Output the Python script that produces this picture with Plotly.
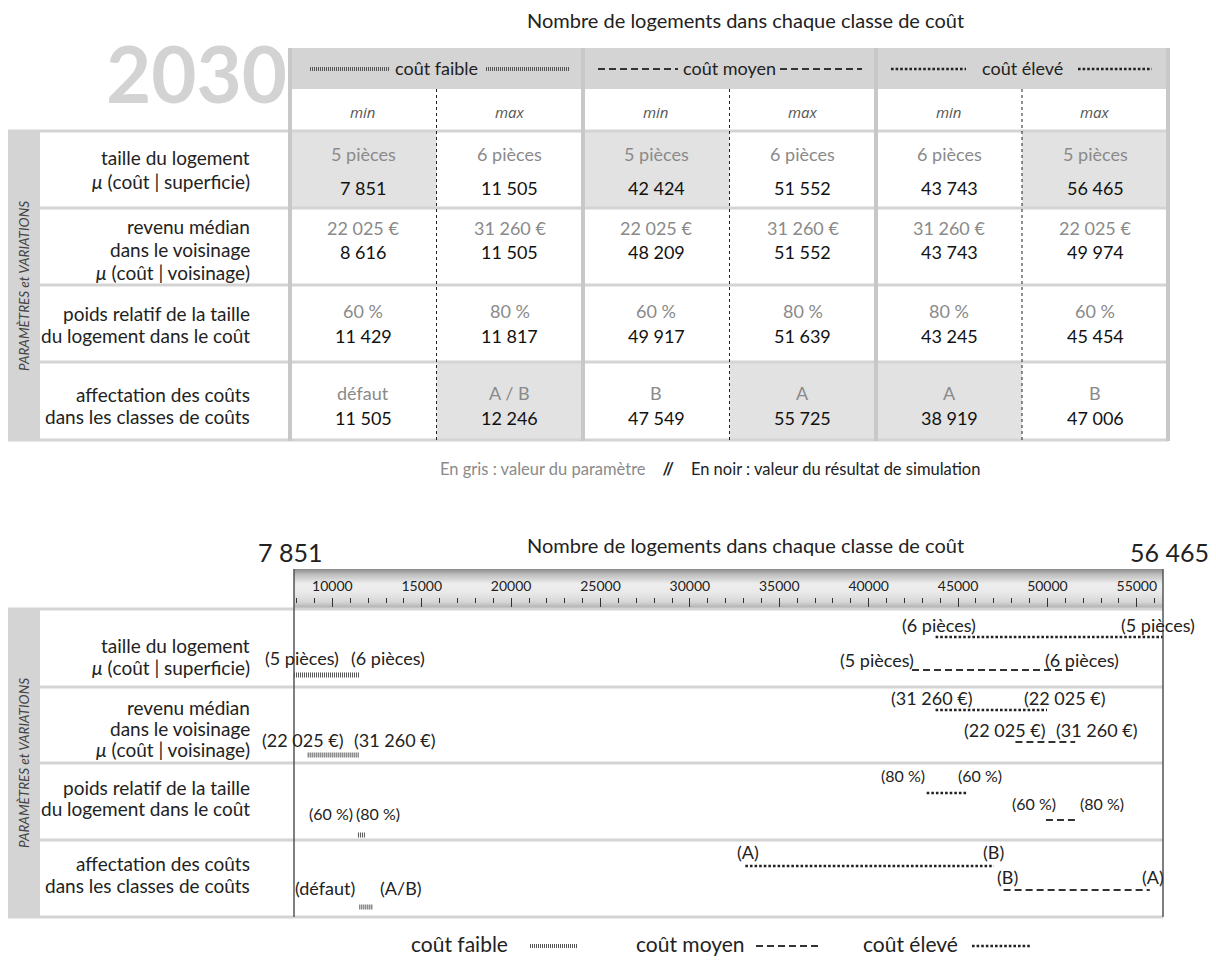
import plotly.graph_objects as go

W, H = 1216, 960
FONT = "Lato"

# ---------------- data ----------------
year = "2030"
chart_title = "Nombre de logements dans chaque classe de coût"
classes = ["coût faible", "coût moyen", "coût élevé"]
bounds = ["min", "max"]
row_labels = [
    ["taille du logement", "<i>μ</i> (coût | superficie)"],
    ["revenu médian", "dans le voisinage", "<i>μ</i> (coût | voisinage)"],
    ["poids relatif de la taille", "du logement dans le coût"],
    ["affectation des coûts", "dans les classes de coûts"],
]
side_label = "<i>PARAMÈTRES et VARIATIONS</i>"

# table : parameter value (grey) and simulation result (black), 6 columns
param_taille = ["5 pièces", "6 pièces", "5 pièces", "6 pièces", "6 pièces", "5 pièces"]
res_taille = [7851, 11505, 42424, 51552, 43743, 56465]
param_revenu = ["22 025 €", "31 260 €", "22 025 €", "31 260 €", "31 260 €", "22 025 €"]
res_revenu = [8616, 11505, 48209, 51552, 43743, 49974]
param_poids = ["60 %", "80 %", "60 %", "80 %", "80 %", "60 %"]
res_poids = [11429, 11817, 49917, 51639, 43245, 45454]
param_affect = ["défaut", "A / B", "B", "A", "A", "B"]
res_affect = [11505, 12246, 47549, 55725, 38919, 47006]

# range chart : segments as drawn on the ruler (low end, high end) per row
seg_lo_faible = [7851, 8616, 11429, 11505]
seg_hi_faible = [11505, 11505, 11817, 12246]
seg_lo_moyen = [42424, 48209, 49917, 47549]
seg_hi_moyen = [51552, 51552, 51639, 55725]
seg_lo_eleve = [43743, 43743, 43245, 33100]
seg_hi_eleve = [56465, 49974, 45454, 47006]
axis_min, axis_max = 7851, 56465

footnote_grey = "En gris : valeur du paramètre"
footnote_black = "En noir : valeur du résultat de simulation"

# ---------------- helpers ----------------
params = [param_taille, param_revenu, param_poids, param_affect]
results = [res_taille, res_revenu, res_poids, res_affect]


def fmt(v):
    return f"{v:,}".replace(",", " ")


shapes = []
annots = []


def px(x):
    return x / W


def py(y):
    return 1 - y / H


def rect(x0, x1, y0, y1, fill, layer="below"):
    shapes.append(dict(type="rect", xref="paper", yref="paper", x0=px(x0), x1=px(x1),
                       y0=py(y0), y1=py(y1), fillcolor=fill, line=dict(width=0), layer=layer))


def line(x0, y0, x1, y1, color, width, dash="solid", layer="below"):
    shapes.append(dict(type="line", xref="paper", yref="paper", x0=px(x0), x1=px(x1),
                       y0=py(y0), y1=py(y1), line=dict(color=color, width=width, dash=dash),
                       layer=layer))


def text(x, y, s, size, color="#222", xanchor="center", yanchor="middle", align="center",
         angle=0, xref="x2", xshift=0, family=FONT):
    annots.append(dict(x=x, y=y, xref=xref, yref="y", text=s, showarrow=False,
                       font=dict(family=family, size=size, color=color), xanchor=xanchor,
                       yanchor=yanchor, align=align, textangle=angle, xshift=xshift))


# class styles (line dash patterns)
STYLE = {
    0: dict(color="#555555", width=5, dash="1px,1px"),
    1: dict(color="#333333", width=2, dash="7px,4px"),
    2: dict(color="#222222", width=2.6, dash="2.6px,2px"),
}

GREY = "#d4d4d4"
LIGHT = "#e2e2e2"

# ---------------- top table ----------------
text(745, 20, chart_title, 20, "#222")
text(289, 73, f"<b>{year}</b>", 78, "#d3d3d3", xanchor="right")

gx = [290, 583, 876, 1168]
cx = [290, 436.5, 583, 729.5, 876, 1022, 1168]
ry = [131, 208, 285, 362, 440]
shaded = [(0, 0), (0, 2), (0, 5), (3, 1), (3, 3), (3, 4)]

rect(290, 1168, 48, 89, GREY)
rect(8, 40, 131, 440, GREY)
for r, c in shaded:
    rect(cx[c], cx[c + 1], ry[r], ry[r + 1], LIGHT)
line(8, 131, 1168, 131, GREY, 3)
for yv in ry[1:-1]:
    line(40, yv, 1168, yv, GREY, 3)
line(8, 440, 1168, 440, GREY, 3)
for xv in gx:
    line(xv, 48, xv, 441, "#c8c8c8", 4)
for c in (1, 3, 5):
    line(cx[c], 89, cx[c], 440, "#222", 1, "3px,3px")

# header with style keys
header_keys = [((310, 390), (486, 570)), ((598, 678), (780, 862)), ((891, 966), (1078, 1152))]
for g, name in enumerate(classes):
    xc = (gx[g] + gx[g + 1]) / 2
    text(xc, 68, name, 18, "#222")
    st = STYLE[g]
    for (a, b) in header_keys[g]:
        line(a, 69, b, 69, st["color"], st["width"] if g != 0 else 4, st["dash"], layer="above")
for c in range(6):
    xc = (cx[c] + cx[c + 1]) / 2
    text(xc, 112, f"<i>{bounds[c % 2]}</i>", 15, "#555", family="Open Sans")

lab_lines_top = [[157, 181], [226, 249, 272], [313, 335], [394, 416]]
val_y_top = [(154, 188), (228, 252), (311, 336), (393, 418)]
for r in range(4):
    for k, s in enumerate(row_labels[r]):
        text(252, lab_lines_top[r][k], s, 19, "#222", xanchor="right", align="right")
    for c in range(6):
        xc = (cx[c] + cx[c + 1]) / 2
        text(xc, val_y_top[r][0], params[r][c], 18, "#8a8a8a")
        text(xc, val_y_top[r][1], fmt(results[r][c]), 18, "#111")
text(24, 286, side_label, 13.5, "#444", angle=-90)

text(710, 469,
     f"<span style='color:#8a8a8a'>{footnote_grey}</span>&nbsp;&nbsp;&nbsp;&nbsp;<b>//</b>&nbsp;&nbsp;&nbsp;&nbsp;"
     f"<span style='color:#222'>{footnote_black}</span>", 16.5, "#222")

# ---------------- bottom range chart ----------------
BX0, BX1 = 294, 1163
text(745, 545, chart_title, 20, "#222")
text(axis_min, 552, fmt(axis_min), 25, "#222", xref="x", xshift=-4)
text(axis_max, 552, fmt(axis_max), 25, "#222", xref="x", xshift=6)

# metallic ruler band
stops = [(0.0, 140), (0.15, 192), (0.38, 238), (0.6, 234), (0.85, 214), (1.0, 175)]
y_top, y_bot = 569, 608
n = y_bot - y_top
for i in range(n):
    t = (i + 0.5) / n
    for k in range(len(stops) - 1):
        if stops[k][0] <= t <= stops[k + 1][0]:
            f = (t - stops[k][0]) / (stops[k + 1][0] - stops[k][0])
            g = int(stops[k][1] + f * (stops[k + 1][1] - stops[k][1]))
            break
    rect(BX0, BX1, y_top + i, y_top + i + 1.05, f"rgb({g},{g},{g})")

rect(8, 40, 609, 917, GREY)
line(8, 609, BX1, 609, GREY, 3)
for yv in (687, 763, 840):
    line(40, yv, BX1, yv, GREY, 3)
line(8, 917, BX1, 917, GREY, 3)
line(BX0, 569, BX0, 917, "#555", 1.5, layer="above")
line(BX1, 569, BX1, 917, "#555", 1.5, layer="above")

lab_lines_bot = [[645, 667], [707, 728, 749], [787, 808], [863, 885]]
for r in range(4):
    for k, s in enumerate(row_labels[r]):
        text(252, lab_lines_bot[r][k], s, 19, "#222", xanchor="right", align="right")
text(24, 763, side_label, 13.5, "#444", angle=-90)

# segment layout
seg_y = {0: [675, 755, 835, 907], 1: [670, 742, 820, 890], 2: [637, 710, 793, 866]}
lab_y = {0: [658, 740, 813, 888], 1: [660, 730, 803, 877], 2: [625, 698, 775, 852]}
shift_lo = {0: [8, -5, -27, -34], 1: [-35, -11, -12, 4], 2: [3, -4, -24, 3]}
shift_hi = {0: [29, 35, 13, 28], 1: [7, 21, 25, 3], 2: [-5, 18, 14, 0]}
lows = [seg_lo_faible, seg_lo_moyen, seg_lo_eleve]
highs = [seg_hi_faible, seg_hi_moyen, seg_hi_eleve]

fig = go.Figure()
for g in range(3):
    xs, ys = [], []
    for r in range(4):
        xs += [lows[g][r], highs[g][r], None]
        ys += [seg_y[g][r], seg_y[g][r], None]
        lo_lab = "(" + params[r][2 * g].replace(" / ", "/") + ")"
        hi_lab = "(" + params[r][2 * g + 1].replace(" / ", "/") + ")"
        size = 16 if r == 2 else 18
        text(lows[g][r], lab_y[g][r], lo_lab, size, "#222", xref="x", xshift=shift_lo[g][r])
        text(highs[g][r], lab_y[g][r], hi_lab, size, "#222", xref="x", xshift=shift_hi[g][r])
    st = STYLE[g]
    fig.add_trace(go.Scatter(x=xs, y=ys, mode="lines", name=classes[g], showlegend=False,
                             line=dict(color=st["color"], width=st["width"], dash=st["dash"]),
                             hoverinfo="skip", xaxis="x", yaxis="y"))

# legend
legend_items = [(459, (530, 578)), (690, (756, 818)), (910, (972, 1030))]
for g, (xc, (a, b)) in enumerate(legend_items):
    text(xc, 943, classes[g], 21, "#222")
    st = STYLE[g]
    line(a, 946, b, 946, st["color"], st["width"] if g != 0 else 4, st["dash"], layer="above")

# invisible trace on the pixel helper axis
fig.add_trace(go.Scatter(x=[0], y=[0], mode="markers", marker=dict(opacity=0),
                         showlegend=False, hoverinfo="skip", xaxis="x2", yaxis="y"))

fig.update_layout(
    width=W, height=H, margin=dict(l=0, r=0, t=0, b=0, pad=0),
    paper_bgcolor="white", plot_bgcolor="rgba(0,0,0,0)", showlegend=False,
    font=dict(family=FONT),
    xaxis=dict(domain=[BX0 / W, BX1 / W], range=[axis_min, axis_max], anchor="free",
               position=1 - 597 / H, side="bottom", ticks="outside", ticklen=9, tickwidth=1,
               tickcolor="#333", tick0=0, dtick=5000, tickformat="d",
               ticklabelposition="inside", tickfont=dict(family=FONT, size=14, color="#222"),
               showgrid=False, zeroline=False, showline=False, fixedrange=True,
               minor=dict(dtick=1000, tick0=0, ticks="outside", ticklen=5, tickwidth=1,
                          tickcolor="#333", showgrid=False)),
    xaxis2=dict(domain=[0, 1], range=[0, W], anchor="y", visible=False, fixedrange=True),
    yaxis=dict(domain=[0, 1], range=[H, 0], visible=False, fixedrange=True),
    shapes=shapes, annotations=annots,
)

fig.write_html("out.html", config={"displayModeBar": False},
               post_script="document.body.style.margin='0px';")
